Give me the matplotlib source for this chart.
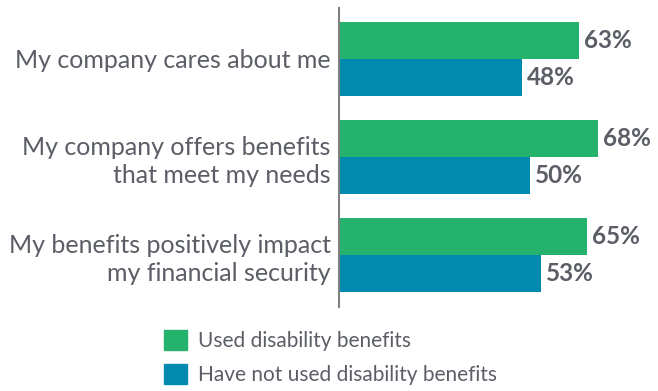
import matplotlib.pyplot as plt
from matplotlib.patches import Patch

categories = [
    "My company cares about me",
    "My company offers benefits\nthat meet my needs",
    "My benefits positively impact\nmy financial security",
]
used = [63, 68, 65]
not_used = [48, 50, 53]
series_names = ["Used disability benefits", "Have not used disability benefits"]

GREEN = "#24b26c"
BLUE = "#008ab0"
TEXT = "#5b5e66"

plt.rcParams["font.family"] = ["Lato", "DejaVu Sans"]

fig = plt.figure(figsize=(6.58, 3.91), dpi=100)
W, H = 658, 391
ax = fig.add_axes([339 / W, 1 - 307 / H, 319 / W, 299 / H])

bar_h = 0.38
pos = list(range(len(categories)))
ax.barh([p - bar_h / 2 for p in pos], used, height=bar_h, color=GREEN)
ax.barh([p + bar_h / 2 for p in pos], not_used, height=bar_h, color=BLUE)

for p, v in zip(pos, used):
    ax.text(v + 1.3, p - bar_h / 2, f"{v}%", va="center", ha="left",
            fontsize=17.5, fontweight="bold", color=TEXT)
for p, v in zip(pos, not_used):
    ax.text(v + 1.3, p + bar_h / 2, f"{v}%", va="center", ha="left",
            fontsize=17.5, fontweight="bold", color=TEXT)

ax.set_xlim(0, 319 / 3.81)
ax.set_ylim(2.53, -0.52)
ax.set_yticks(pos)
ax.set_yticklabels(categories, fontsize=18, color=TEXT, linespacing=1.28)
ax.tick_params(axis="y", length=0, pad=6)
ax.set_xticks([])
for s in ["top", "right", "bottom"]:
    ax.spines[s].set_visible(False)
ax.spines["left"].set_color("#808080")
ax.spines["left"].set_linewidth(1.5)

handles = [Patch(color=GREEN), Patch(color=BLUE)]
fig.legend(handles, series_names, loc="upper left",
           bbox_to_anchor=(145 / W, 1 - 311 / H), frameon=False,
           fontsize=15, labelcolor=TEXT, handlelength=1.1, handleheight=1.1,
           handletextpad=0.55, labelspacing=0.62)

fig.savefig("out.png", dpi=100)
